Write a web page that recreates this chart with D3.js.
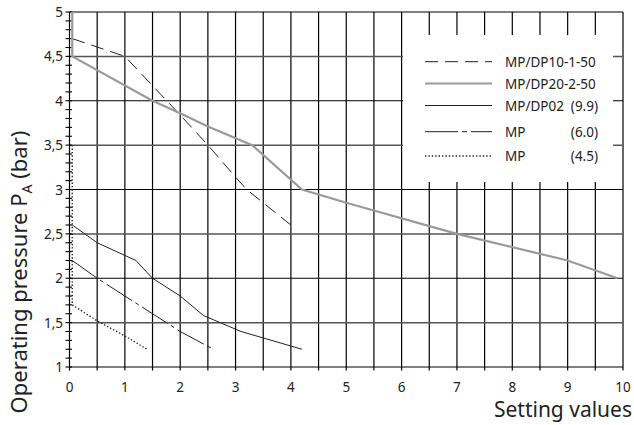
<!DOCTYPE html>
<html>
<head>
<meta charset="utf-8">
<script src="https://cdn.jsdelivr.net/npm/d3@7"></script>
<style>
  body { margin: 0; background: #fff; }
  text { font-family: "Noto Sans", sans-serif; fill: #222; }
</style>
</head>
<body>
<svg id="chart" width="634" height="425"></svg>
<script>
// values
var xTicks = [0, 1, 2, 3, 4, 5, 6, 7, 8, 9, 10];
var yTicks = [1, 1.5, 2, 2.5, 3, 3.5, 4, 4.5, 5];

var dp10 = [[0.05, 4.7], [1.0, 4.5], [2.0, 3.84], [2.5, 3.5], [3.0, 3.14], [3.2, 3.0], [4.0, 2.6]];
var dp20 = [[0.05, 5.0], [0.05, 4.5], [1.5, 4.0], [2.0, 3.86], [2.5, 3.71], [3.3, 3.5], [4.2, 3.0], [5.0, 2.85], [7.0, 2.5], [9.0, 2.2], [9.9, 2.0]];
var dp02 = [[0.05, 2.6], [0.5, 2.4], [1.2, 2.2], [1.5, 2.0], [2.0, 1.8], [2.42, 1.58], [3.1, 1.4], [4.2, 1.2]];
var mp60 = [[0.05, 2.2], [0.5, 2.0], [1.0, 1.8], [1.5, 1.6], [2.0, 1.4], [2.6, 1.2]];
var mp45 = [[0.05, 3.5], [0.05, 1.7], [0.5, 1.52], [1.0, 1.35], [1.4, 1.2]];

var legendNames = ["MP/DP10-1-50", "MP/DP20-2-50", "MP/DP02", "MP", "MP"];
var legendValues = ["", "", "(9.9)", "(6.0)", "(4.5)"];

var styles = [
  { stroke: "#222", width: 1, dash: "13,7" },
  { stroke: "#9a9a9a", width: 2.2, dash: null },
  { stroke: "#222", width: 1, dash: null },
  { stroke: "#222", width: 1, dash: "30,4,4,4" },
  { stroke: "#222", width: 1.4, dash: "1.4,2" }
];
var seriesData = [dp10, dp20, dp02, mp60, mp45];

var svg = d3.select("#chart");
var x = d3.scaleLinear().domain([0, 10]).range([69.5, 623]);
var y = d3.scaleLinear().domain([1, 5]).range([367, 12]);

var g = svg.append("g");

// grid every 0.5
var gridX = d3.range(0.5, 10.01, 0.5);
var gridY = d3.range(1.5, 5.01, 0.5);

g.selectAll(".vgrid").data(gridX).enter().append("line")
  .attr("x1", function (d) { return x(d); })
  .attr("x2", function (d) { return x(d); })
  .attr("y1", y(5)).attr("y2", y(1) + 3.5)
  .attr("stroke", "#000").attr("stroke-width", 1.2);

g.selectAll(".hgrid").data(gridY).enter().append("line")
  .attr("x1", x(0)).attr("x2", x(10))
  .attr("y1", function (d) { return y(d); })
  .attr("y2", function (d) { return y(d); })
  .attr("stroke", function (d) { return d % 1 ? "#555" : "#000"; })
  .attr("stroke-width", function (d) { return d % 1 ? 1.5 : 1.2; });

// axes
g.append("line").attr("x1", x(0)).attr("x2", x(10)).attr("y1", y(1)).attr("y2", y(1))
  .attr("stroke", "#000").attr("stroke-width", 1.2);
g.append("line").attr("x1", x(0)).attr("x2", x(0)).attr("y1", y(1) + 3.5).attr("y2", y(5))
  .attr("stroke", "#000").attr("stroke-width", 1.2);

// minor ticks on the y axis every 0.1
var minorY = d3.range(1, 5.001, 0.1);
g.selectAll(".ytick").data(minorY).enter().append("line")
  .attr("x1", x(0) - 4).attr("x2", x(0) + 2.5)
  .attr("y1", function (d) { return y(d); })
  .attr("y2", function (d) { return y(d); })
  .attr("stroke", "#000").attr("stroke-width", 1.1);

// legend box
var lx = 403, ly = 35, lw = 210, lh = 147;
g.append("rect").attr("x", lx).attr("y", ly).attr("width", lw).attr("height", lh)
  .attr("fill", "#fff");

// series
var line = d3.line()
  .x(function (d) { return x(d[0]); })
  .y(function (d) { return y(d[1]); });

seriesData.forEach(function (s, i) {
  g.append("path").datum(s)
    .attr("d", line)
    .attr("fill", "none")
    .attr("stroke", styles[i].stroke)
    .attr("stroke-width", styles[i].width)
    .attr("stroke-dasharray", styles[i].dash);
});

// tick labels
g.selectAll(".xlab").data(xTicks).enter().append("text")
  .attr("x", function (d) { return x(d); })
  .attr("y", 391.5)
  .attr("text-anchor", "middle")
  .style("font-size", "13.5px")
  .text(function (d) { return d; });

g.selectAll(".ylab").data(yTicks).enter().append("text")
  .attr("x", 63)
  .attr("y", function (d) { return y(d) + 5; })
  .attr("text-anchor", "end")
  .style("font-size", "13.5px")
  .text(function (d) { return String(d).replace(".", ","); });

// legend entries
var rowY = [61.7, 83.5, 105.5, 131.7, 156];
legendNames.forEach(function (name, i) {
  var ry = rowY[i];
  g.append("line")
    .attr("x1", 425).attr("x2", 492)
    .attr("y1", ry).attr("y2", ry)
    .attr("stroke", styles[i].stroke)
    .attr("stroke-width", styles[i].width)
    .attr("stroke-dasharray", i === 3 ? "33,4,5,4" : styles[i].dash);
  g.append("text").attr("x", 505).attr("y", ry + 5)
    .style("font-size", "13.5px").text(name);
  if (legendValues[i]) {
    g.append("text").attr("x", 598).attr("y", ry + 5)
      .attr("text-anchor", "end")
      .style("font-size", "13.5px").text(legendValues[i]);
  }
});

// axis titles
svg.append("text")
  .attr("x", 632).attr("y", 417)
  .attr("text-anchor", "end")
  .style("font-size", "21px")
  .text("Setting values");

var yt = svg.append("text")
  .attr("transform", "translate(27,272) rotate(-90)")
  .attr("text-anchor", "middle")
  .style("font-size", "22px");
yt.append("tspan").text("Operating pressure P");
yt.append("tspan").attr("dy", 5).style("font-size", "14px").text("A");
yt.append("tspan").attr("dy", -5).text(" (bar)");
</script>
</body>
</html>
